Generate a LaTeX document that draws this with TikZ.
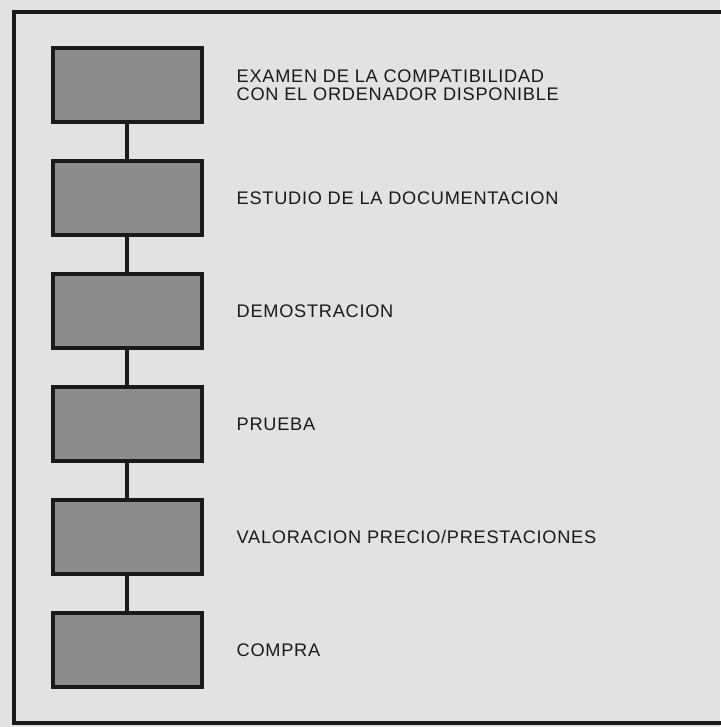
\documentclass[tikz,border=0pt]{standalone}
\usepackage{fontspec}
\setmainfont[LetterSpace=4]{Liberation Sans}
\usepackage{tikz}
\usetikzlibrary{positioning}
\definecolor{paper}{RGB}{226,226,226}
\definecolor{boxgray}{RGB}{140,140,140}
\definecolor{ink}{RGB}{26,26,26}

\begin{document}
\begin{tikzpicture}[x=1pt,y=-1pt,line join=miter,
    stepbox/.style={draw=ink, fill=boxgray, line width=4pt, minimum width=149pt, minimum height=74pt, inner sep=0pt},
    steplabel/.style={anchor=west, align=left, inner sep=0pt, text=ink,
      font=\fontsize{18.2}{18}\selectfont},
    link/.style={draw=ink, line width=4pt}]
        % page and frame
        \fill[paper] (0,0) rectangle (720,727);
        \useasboundingbox (0,0) rectangle (720,727);
        \draw[ink, line width=4pt] (730,12) -- (14,12) -- (14,723) -- (730,723);
        % steps
        \foreach \i/\txt in {1/{EXAMEN DE LA COMPATIBILIDAD\\CON EL ORDENADOR DISPONIBLE},
                             2/{ESTUDIO DE LA DOCUMENTACION},
                             3/{DEMOSTRACION},
                             4/{PRUEBA},
                             5/{VALORACION PRECIO/PRESTACIONES},
                             6/{COMPRA}} {
          \node[stepbox] (s\i) at (127,{85+113*(\i-1)}) {};
          \node[steplabel, right=33pt of s\i] (t\i) {\txt};
        }
        \foreach \i [evaluate=\i as \j using int(\i+1)] in {1,...,5}
          \draw[link] (s\i) -- (s\j);
      \end{tikzpicture}
\end{document}
